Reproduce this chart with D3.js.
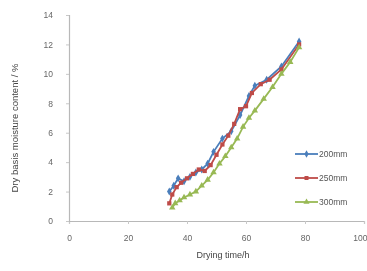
<!DOCTYPE html>
<html>
<head>
<meta charset="utf-8">
<script src="https://cdn.jsdelivr.net/npm/d3@7"></script>
<style>
  body { margin: 0; background: #fff; }
  svg { display: block; filter: blur(0.4px); }
  text { font-family: Arial, "Liberation Sans", sans-serif; fill: #555; }
</style>
</head>
<body>
<svg></svg>
<script>
// Data
const xTicks = [0, 20, 40, 60, 80, 100];
const yTicks = [0, 2, 4, 6, 8, 10, 12, 14];
const seriesNames = ['200mm', '250mm', '300mm'];

const time200 = [34, 35.5, 37, 39, 41, 43, 45, 47, 49, 52, 55, 58, 61, 63, 67, 72, 78];
const moist200 = [2.0, 2.4, 2.9, 2.7, 3.0, 3.3, 3.5, 3.9, 4.7, 5.6, 6.1, 7.2, 8.5, 9.2, 9.6, 10.5, 12.2];

const time250 = [34, 35, 36.5, 38, 40, 42, 44, 46, 48, 50, 52, 54, 56, 58, 60, 62, 65, 68, 72, 78];
const moist250 = [1.2, 1.8, 2.3, 2.6, 2.9, 3.2, 3.5, 3.4, 3.8, 4.5, 5.2, 5.8, 6.6, 7.6, 7.8, 8.7, 9.3, 9.6, 10.3, 12.0];

const time300 = [35, 36, 37.5, 39, 41, 43, 45, 47, 49, 51, 53, 55, 57, 59, 61, 63, 66, 69, 72, 75, 78];
const moist300 = [0.9, 1.2, 1.4, 1.6, 1.8, 2.0, 2.4, 2.8, 3.3, 3.9, 4.4, 5.0, 5.6, 6.4, 7.0, 7.5, 8.3, 9.1, 10.0, 10.8, 11.8];

function sketch() {
  const width = 367;
  const height = 271;

  const svg = d3.select('svg')
    .attr('width', width)
    .attr('height', height);

  // Scales
  const x = d3.scaleLinear().domain([0, 100]).range([69, 364]);
  const y = d3.scaleLinear().domain([0, 14]).range([221, 15]);

  const colors = ['#4a7ebb', '#be4b48', '#98b954'];
  const series = [
    {name: seriesNames[0], pts: time200.map((t, i) => [t, moist200[i]]), shape: d3.symbolDiamond},
    {name: seriesNames[1], pts: time250.map((t, i) => [t, moist250[i]]), shape: d3.symbolSquare},
    {name: seriesNames[2], pts: time300.map((t, i) => [t, moist300[i]]), shape: d3.symbolTriangle}
  ];

  // Axes
  const xAxis = svg.append('g')
    .attr('transform', `translate(0,${y(0)})`)
    .call(d3.axisBottom(x).tickValues(xTicks).tickSize(3).tickPadding(11));
  const yAxis = svg.append('g')
    .attr('transform', `translate(${x(0)},0)`)
    .call(d3.axisLeft(y).tickValues(yTicks).tickSize(3).tickPadding(13));

  [xAxis, yAxis].forEach(function (a) {
    a.select('.domain').attr('stroke', '#b8b8b8').attr('stroke-width', 1.2);
    a.selectAll('.tick line').attr('stroke', '#c8c8c8');
    a.selectAll('.tick text').style('font-size', '8.5px').style('fill', '#666');
  });
  // keep the last x label inside the page
  xAxis.selectAll('.tick text')
    .filter(function (d) { return d === 100; })
    .attr('text-anchor', 'end')
    .attr('dx', '3');

  // Axis titles
  svg.append('text')
    .attr('x', 223).attr('y', 258)
    .attr('text-anchor', 'middle')
    .style('font-size', '9px').style('fill', '#444')
    .text('Drying time/h');

  svg.append('text')
    .attr('transform', `translate(18,128) rotate(-90)`)
    .attr('text-anchor', 'middle')
    .style('font-size', '9.5px').style('fill', '#444')
    .text('Dry basis moisture content / %');

  // Lines and markers
  const line = d3.line()
    .x(function (d) { return x(d[0]); })
    .y(function (d) { return y(d[1]); });

  series.forEach(function (s, i) {
    svg.append('path')
      .datum(s.pts)
      .attr('d', line)
      .attr('fill', 'none')
      .attr('stroke', colors[i])
      .attr('stroke-width', 1.8);

    svg.selectAll('.m' + i)
      .data(s.pts)
      .enter()
      .append('path')
      .attr('class', 'm' + i)
      .attr('transform', function (d) { return `translate(${x(d[0])},${y(d[1])})`; })
      .attr('d', d3.symbol().type(s.shape).size(18))
      .attr('fill', colors[i]);
  });

  // Legend
  const legend = svg.append('g');
  series.forEach(function (s, i) {
    const ly = 154 + i * 24;
    legend.append('line')
      .attr('x1', 295).attr('x2', 318)
      .attr('y1', ly).attr('y2', ly)
      .attr('stroke', colors[i]).attr('stroke-width', 1.8);
    legend.append('path')
      .attr('transform', `translate(306.5,${ly})`)
      .attr('d', d3.symbol().type(s.shape).size(16))
      .attr('fill', colors[i]);
    legend.append('text')
      .attr('x', 319).attr('y', ly + 3)
      .style('font-size', '8.5px').style('fill', '#555')
      .text(s.name);
  });
}

sketch();
</script>
</body>
</html>
